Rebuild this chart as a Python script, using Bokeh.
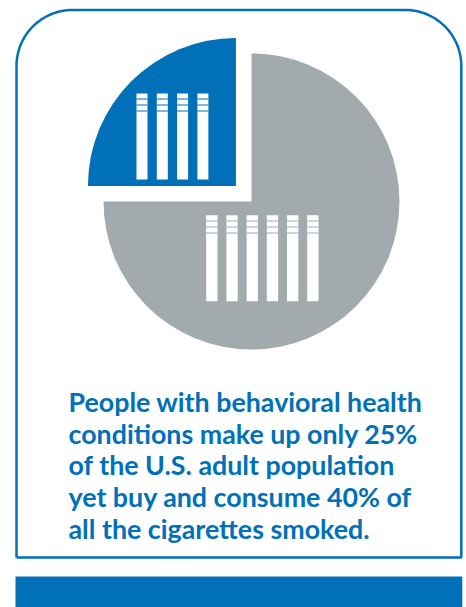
import numpy as np
from bokeh.plotting import figure
from bokeh.models import Range1d
from bokeh.core.properties import value
from bokeh.embed import file_html
from bokeh.resources import INLINE

# ---- data ----
segments = ["People with behavioral health conditions", "Rest of U.S. adult population"]
population_share = [25, 75]
cigarette_icons = [4, 6]
segment_colors = ["#0070b8", "#a3aaae"]
caption_lines = [
    "People with behavioral health",
    "conditions make up only 25%",
    "of the U.S. adult population",
    "yet buy and consume 40% of",
    "all the cigarettes smoked.",
]

BLUE = "#0070b8"
W, H = 466, 607


def Y(ry):
    return 607 - np.asarray(ry, dtype=float)


p = figure(width=W, height=H, x_range=Range1d(0, 466), y_range=Range1d(0, 607),
           output_backend="svg", toolbar_location=None, min_border=0,
           x_axis_location=None, y_axis_location=None)
p.grid.visible = False
p.outline_line_color = None
p.background_fill_color = "white"
p.border_fill_color = "white"

# ---- frame with rounded top corners ----
L, R_, T, B, rad = 16.0, 460.8, 9.5, 557.0, 56.0
a1 = np.linspace(np.pi, np.pi / 2, 30)
a2 = np.linspace(np.pi / 2, 0, 30)
xs = [L]
ys = [B]
xs += list(L + rad + rad * np.cos(a1))
ys += list(T + rad - rad * np.sin(a1))
xs += list(R_ - rad + rad * np.cos(a2))
ys += list(T + rad - rad * np.sin(a2))
xs += [R_, L]
ys += [B, B]
p.line(xs, Y(ys), line_color=BLUE, line_width=2.5)

# ---- bottom bar ----
p.quad(left=[L - 1], right=[R_ + 1], top=Y([576]), bottom=Y([640]),
       fill_color=BLUE, line_color=None)

# ---- exploded pie ----
cx, cy, r = 251.0, 201.0, 148.0
fr = np.array(population_share, dtype=float) / sum(population_share)
ends = np.pi / 2 + 2 * np.pi * np.cumsum(fr)
starts = np.concatenate([[np.pi / 2], ends[:-1]])
explode = [22.0, 0.0]
for i in range(len(segments)):
    mid = (starts[i] + ends[i]) / 2
    ex = cx + explode[i] * np.cos(mid)
    ey = float(Y(cy)) + explode[i] * np.sin(mid)
    p.wedge(x=[ex], y=[ey], radius=r, start_angle=[starts[i]], end_angle=[ends[i]],
            fill_color=segment_colors[i], line_color=None)

# ---- cigarette icons ----
icon_geom = [
    dict(x0=136.0, pitch=20.3, w=11.0, top=93.0, bot=179.0, bands=[98.5, 104.5, 110.5]),
    dict(x0=205.7, pitch=20.2, w=11.3, top=214.7, bot=300.7, bands=[220.5, 226.5, 232.5]),
]
for i, n in enumerate(cigarette_icons):
    g = icon_geom[i]
    lefts = g["x0"] + g["pitch"] * np.arange(n)
    p.quad(left=lefts, right=lefts + g["w"], top=Y([g["top"]] * n), bottom=Y([g["bot"]] * n),
           fill_color="white", line_color=None)
    for b in g["bands"]:
        p.quad(left=lefts, right=lefts + g["w"], top=Y([b - 0.6] * n), bottom=Y([b + 0.6] * n),
               fill_color=segment_colors[i], line_color=None)

# ---- caption ----
n = len(caption_lines)
p.text(x=[68] * n, y=Y([401.7 + 31.6 * k for k in range(n)]), text=caption_lines,
       text_font=value("Lato"), text_font_style="bold", text_font_size="26.8px",
       text_color=BLUE, text_baseline="alphabetic", text_align="left")

open("out.html", "w").write(file_html(p, INLINE))
